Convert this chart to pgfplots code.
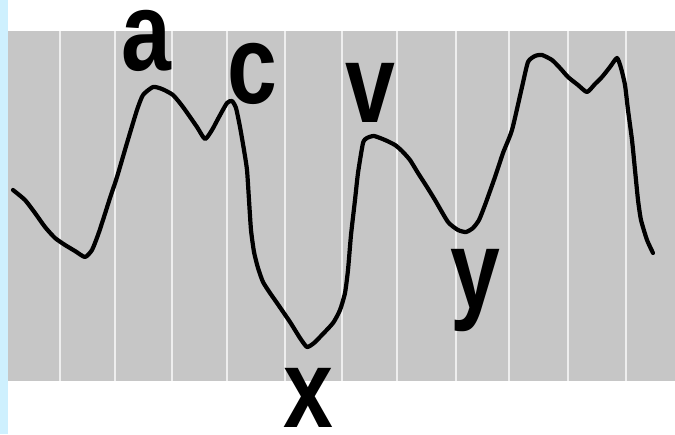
\documentclass[border=0pt]{standalone}
\usepackage{pgfplots}
\pgfplotsset{compat=1.18}
\usepackage{fontspec}
\setmainfont{Liberation Sans}
\definecolor{paper}{RGB}{198,198,198}
\definecolor{stripblue}{RGB}{206,240,254}
\definecolor{gridwhite}{RGB}{238,238,238}
\newcommand{\wave}[1]{\scalebox{0.8}[1]{\fontsize{112}{112}\selectfont\bfseries #1}}
\begin{document}
\begin{tikzpicture}[x=1pt,y=1pt]
  \path[use as bounding box] (0,0) rectangle (675,434);
  \fill[white] (0,0) rectangle (675,434);
  \fill[stripblue] (0,0) rectangle (8,434);
  \begin{axis}[
    at={(8pt,53pt)}, anchor=south west,
    width=667pt, height=350pt, scale only axis,
    xmin=8, xmax=675, ymin=31, ymax=381, y dir=reverse,
    axis line style={draw=none}, clip=false,
    axis background/.style={fill=paper},
    xtick={60,115,172,227,285,342,397,456,509,568,626},
    ytick=\empty, major tick length=0pt,
    xmajorgrids, grid style={gridwhite, line width=2.5pt},
    xticklabels={},
  ]
  % pressure trace
  \addplot[black, line width=4.2pt, smooth, tension=0.35, line join=round, line cap=round] coordinates {
    (13,190) (25,200) (35,213) (45,227) (55,238) (65,245) (75,251) (85,257)
    (92,250) (98,235) (103,220) (110,198) (117,177) (127,143) (137,110) (143,95)
    (153,87) (162,89) (173,95) (183,107) (197,127) (205,139) (212,130) (219,117)
    (227,103) (232,101) (236,108) (240,127) (244,150) (247,170) (249,200) (251,230)
    (254,252) (258,268) (263,282) (270,293) (277,303) (290,322) (300,338) (307,347)
    (314,343) (320,337) (333,323) (340,310) (345,293) (348,270) (351,235) (355,200)
    (358,173) (363,143) (367,138) (374,136) (385,140) (395,145) (402,151) (410,160)
    (418,173) (427,187) (435,200) (448,222) (458,230) (466,232) (473,228) (479,220)
    (485,205) (495,177) (503,153) (512,130) (522,87) (528,62) (535,56) (542,55)
    (552,60) (560,68) (568,77) (578,85) (587,92) (595,84) (602,77) (610,67)
    (617,58) (621,68) (625,85) (628,110) (632,140) (635,170) (638,200) (641,220)
    (647,240) (653,253)
  };
  \node[anchor=base, inner sep=0] at (axis cs:146,70) {\wave{a}};
  \node[anchor=base, inner sep=0] at (axis cs:252,103) {\wave{c}};
  \node[anchor=base, inner sep=0] at (axis cs:370,122) {\wave{v}};
  \node[anchor=base, inner sep=0] at (axis cs:308,427) {\wave{x}};
  \node[anchor=base, inner sep=0] at (axis cs:475,308) {\wave{y}};
  \end{axis}
\end{tikzpicture}
\end{document}
